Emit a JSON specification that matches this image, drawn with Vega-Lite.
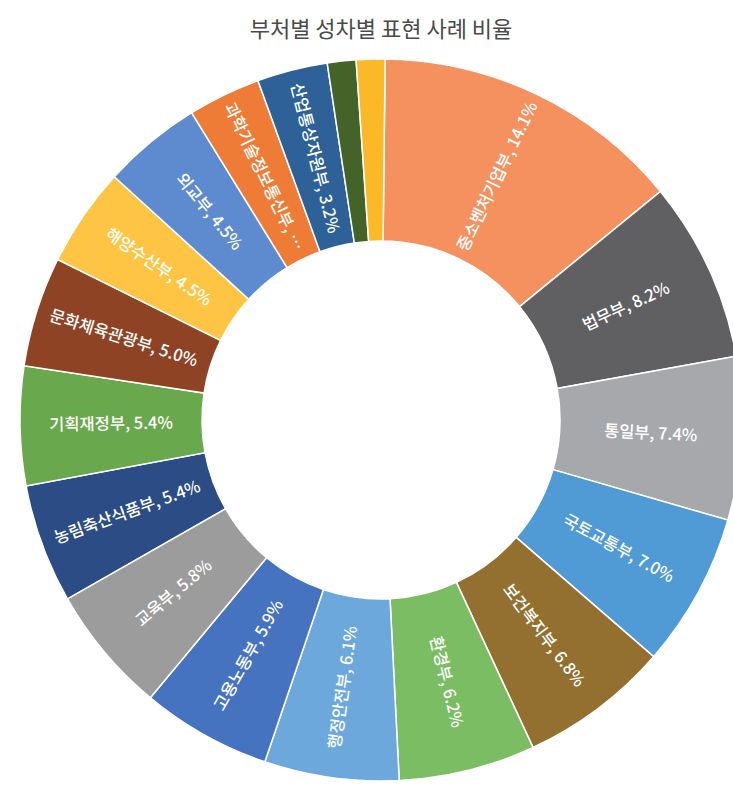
{
  "$schema": "https://vega.github.io/schema/vega-lite/v6.json",
  "autosize": {"type": "none"},
  "width": 706,
  "height": 724,
  "padding": {"left": 28, "top": 58, "right": 0, "bottom": 0},
  "background": "white",
  "view": {"stroke": null},
  "title": {
    "text": "부처별 성차별 표현 사례 비율",
    "font": "Noto Sans CJK KR",
    "fontSize": 22,
    "fontWeight": "normal",
    "color": "#4a4a4a",
    "anchor": "middle",
    "offset": 14
  },
  "data": {
    "values": [
      {"idx": 1, "name": "중소벤처기업부", "value": 14.1, "label": "중소벤처기업부, 14.1%"},
      {"idx": 2, "name": "법무부", "value": 8.2, "label": "법무부, 8.2%"},
      {"idx": 3, "name": "통일부", "value": 7.4, "label": "통일부, 7.4%"},
      {"idx": 4, "name": "국토교통부", "value": 7.0, "label": "국토교통부, 7.0%"},
      {"idx": 5, "name": "보건복지부", "value": 6.8, "label": "보건복지부, 6.8%"},
      {"idx": 6, "name": "환경부", "value": 6.2, "label": "환경부, 6.2%"},
      {"idx": 7, "name": "행정안전부", "value": 6.1, "label": "행정안전부, 6.1%"},
      {"idx": 8, "name": "고용노동부", "value": 5.9, "label": "고용노동부, 5.9%"},
      {"idx": 9, "name": "교육부", "value": 5.8, "label": "교육부, 5.8%"},
      {"idx": 10, "name": "농림축산식품부", "value": 5.4, "label": "농림축산식품부, 5.4%"},
      {"idx": 11, "name": "기획재정부", "value": 5.4, "label": "기획재정부, 5.4%"},
      {"idx": 12, "name": "문화체육관광부", "value": 5.0, "label": "문화체육관광부, 5.0%"},
      {"idx": 13, "name": "해양수산부", "value": 4.5, "label": "해양수산부, 4.5%"},
      {"idx": 14, "name": "외교부", "value": 4.5, "label": "외교부, 4.5%"},
      {"idx": 15, "name": "과학기술정보통신부", "value": 3.3, "label": "과학기술정보통신부, …"},
      {"idx": 16, "name": "산업통상자원부", "value": 3.2, "label": "산업통상자원부, 3.2%"},
      {"idx": 17, "name": "국방부", "value": 1.3, "label": ""},
      {"idx": 18, "name": "여성가족부", "value": 1.3, "label": ""}
    ]
  },
  "transform": [
    {"joinaggregate": [{"op": "sum", "field": "value", "as": "total"}]},
    {"window": [{"op": "sum", "field": "value", "as": "cum"}], "sort": [{"field": "idx", "order": "ascending"}], "frame": [null, 0]},
    {"calculate": "(datum.cum - datum.value / 2) / datum.total * 360 + 0.66", "as": "mid"},
    {"calculate": "datum.mid < 180 ? datum.mid - 90 : datum.mid - 270", "as": "rot"}
  ],
  "encoding": {
    "theta": {"field": "value", "type": "quantitative", "stack": true, "scale": {"range": [0.0115, 6.2947]}},
    "order": {"field": "idx", "type": "quantitative", "sort": "ascending"}
  },
  "layer": [
    {
      "mark": {"type": "arc", "innerRadius": 179, "outerRadius": 361, "stroke": "white", "strokeWidth": 1.5},
      "encoding": {
        "color": {
          "field": "name",
          "type": "nominal",
          "legend": null,
          "scale": {
            "domain": ["중소벤처기업부", "법무부", "통일부", "국토교통부", "보건복지부", "환경부", "행정안전부", "고용노동부", "교육부", "농림축산식품부", "기획재정부", "문화체육관광부", "해양수산부", "외교부", "과학기술정보통신부", "산업통상자원부", "국방부", "여성가족부"],
            "range": ["#F4915F", "#606062", "#A7A8AB", "#509AD6", "#947030", "#7BBD63", "#6DA8DD", "#4573C0", "#9C9C9C", "#2B4C84", "#69A84C", "#8E4324", "#FDC543", "#5E8BCF", "#EE7C36", "#2D6197", "#436329", "#FBB927"]
          }
        }
      }
    },
    {
      "mark": {"type": "text", "radius": 270, "font": "Noto Sans CJK KR", "fontSize": 16.5, "fontWeight": 500, "fill": "white", "align": "center", "baseline": "middle"},
      "encoding": {
        "detail": {"field": "name", "type": "nominal"},
        "text": {"field": "label", "type": "nominal"},
        "angle": {"field": "rot", "type": "quantitative", "scale": null}
      }
    }
  ]
}
